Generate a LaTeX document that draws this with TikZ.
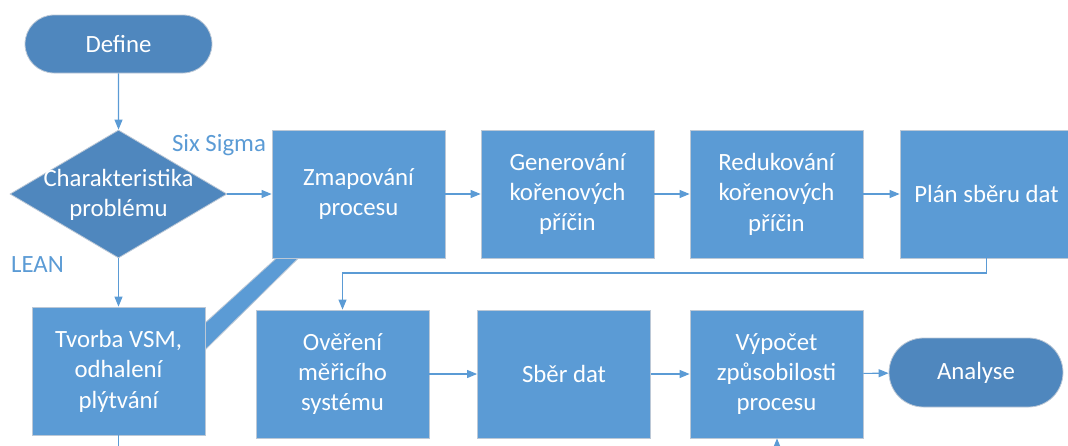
\documentclass[tikz,border=0pt]{standalone}
\usepackage{fontspec}
\setmainfont{Carlito}
\usetikzlibrary{arrows.meta,shapes.geometric,shapes.misc}
\definecolor{boxblue}{HTML}{5B9BD5}
\definecolor{darkblue}{HTML}{4F87BE}
\definecolor{edgegray}{HTML}{BCC8D6}
\begin{document}
\begin{tikzpicture}[x=0.75pt,y=-0.75pt,
  every node/.style={font=\fontsize{18.6}{22.8}\selectfont, align=center, text=white},
  stepbox/.style={rectangle, fill=boxblue, draw=edgegray, line width=0.6pt,
    minimum width={173*0.75pt}, minimum height={128*0.75pt}, inner sep=0pt},
  terminal/.style={rounded rectangle, fill=darkblue, draw=edgegray, line width=0.6pt,
    minimum width={187*0.75pt}, minimum height={58*0.75pt}, inner sep=0pt},
  decision/.style={diamond, fill=darkblue, draw=edgegray, line width=0.6pt,
    minimum width={217*0.75pt}, minimum height={128*0.75pt}, inner sep=0pt},
  tag/.style={text=boxblue},
  flow/.style={draw=boxblue, line width=0.8pt,
    -{Triangle[length=7.5pt,width=6pt]}},
  plain/.style={draw=boxblue, line width=0.8pt}]
\useasboundingbox (0,0) rectangle (1068,446);

% diagonal band joining the LEAN and Six Sigma branches
\fill[boxblue, draw=edgegray, line width=0.6pt]
  (205,323) -- (276,258.5) -- (298,258.5) -- (205,350) -- cycle;

% start and decision
\node[terminal] (define) at (118.5,44) {Define};
\node[decision] (char) at (118.5,194) {};
\node (chartext) at (118.5,195) {Charakteristika\\problému};
\node[tag] (sixsigma) at (219,145) {Six Sigma};
\node[tag] (lean) at (37.5,265) {LEAN};

% LEAN branch
\node[stepbox] (vsm) at (118.5,371) {Tvorba VSM,\\odhalení\\plýtvání};

% Six Sigma branch, upper row
\node[stepbox] (zmap) at (358.5,194) {Zmapování\\procesu};
\node[stepbox] (gen) at (567.5,194) {Generování\\kořenových\\příčin};
\node[stepbox] (red) at (776.5,194) {Redukování\\kořenových\\příčin};
\node[stepbox] (plan) at (986.5,194) {Plán sběru dat};

% Six Sigma branch, lower row
\node[stepbox] (over) at (342.5,374) {Ověření\\měřicího\\systému};
\node[stepbox] (sber) at (564,374) {Sběr dat};
\node[stepbox] (vyp) at (776.5,374) {Výpočet\\způsobilosti\\procesu};
\node[terminal, minimum width={174*0.75pt}, minimum height={69*0.75pt}] (analyse) at (976,372.5) {Analyse};

% free ends leaving the picture at the bottom
\coordinate (vsmout) at (118.5,470);
\coordinate (vypin) at (777,470);
\coordinate (bend) at (986.5,273);

% connectors
\draw[flow] (define) -- (char);
\draw[flow] (char) -- (zmap.west |- char);
\draw[flow] (char) -- (vsm);
\draw[flow] (zmap) -- (gen);
\draw[flow] (gen) -- (red);
\draw[flow] (red) -- (plan);
\draw[flow] (plan.south -| bend) -- (bend) -| (over.north);
\draw[flow] (over) -- (sber);
\draw[flow] (sber) -- (vyp);
\draw[flow] (vyp) -- (analyse);
\draw[flow] (vypin) -- (vyp.south -| vypin);
\draw[plain] (vsm) -- (vsmout);
\end{tikzpicture}
\end{document}
